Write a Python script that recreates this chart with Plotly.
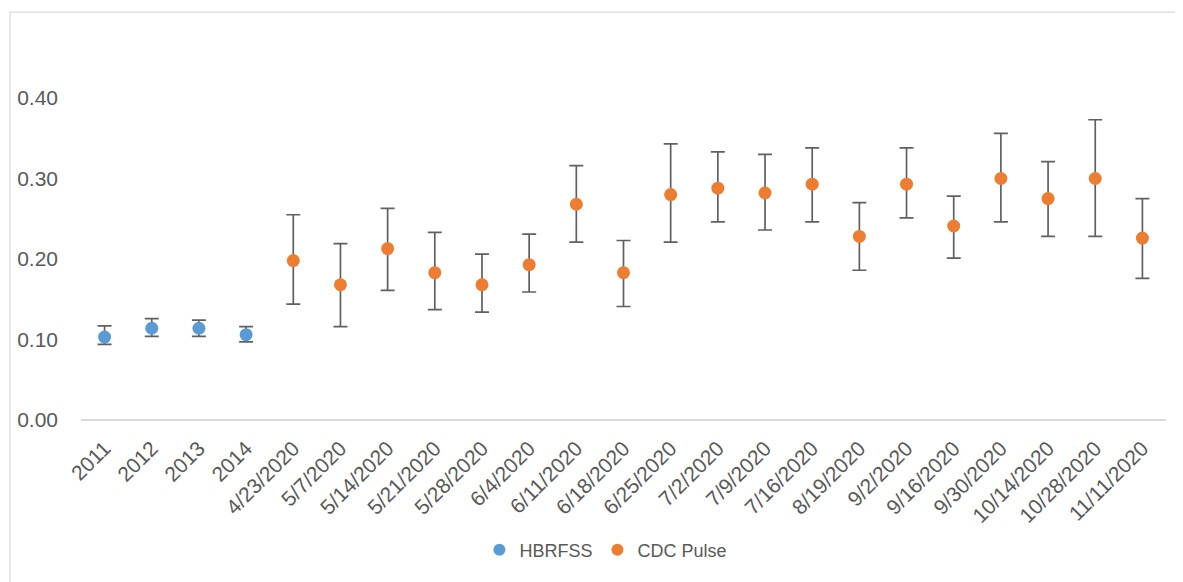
import plotly.graph_objects as go

categories = ["2011", "2012", "2013", "2014", "4/23/2020", "5/7/2020", "5/14/2020",
              "5/21/2020", "5/28/2020", "6/4/2020", "6/11/2020", "6/18/2020",
              "6/25/2020", "7/2/2020", "7/9/2020", "7/16/2020", "8/19/2020",
              "9/2/2020", "9/16/2020", "9/30/2020", "10/14/2020", "10/28/2020",
              "11/11/2020"]

hb_x = ["2011", "2012", "2013", "2014"]
hb_val = [0.103, 0.114, 0.114, 0.106]
hb_hi = [0.117, 0.126, 0.124, 0.116]
hb_lo = [0.094, 0.104, 0.104, 0.097]

cdc_x = categories[4:]
cdc_val = [0.198, 0.168, 0.213, 0.183, 0.168, 0.193, 0.268, 0.183, 0.280, 0.288,
           0.282, 0.293, 0.228, 0.293, 0.241, 0.300, 0.275, 0.300, 0.226]
cdc_hi = [0.255, 0.219, 0.263, 0.233, 0.206, 0.231, 0.316, 0.223, 0.343, 0.333,
          0.330, 0.338, 0.270, 0.338, 0.278, 0.356, 0.321, 0.373, 0.275]
cdc_lo = [0.144, 0.116, 0.161, 0.137, 0.134, 0.159, 0.221, 0.141, 0.221, 0.246,
          0.236, 0.246, 0.186, 0.251, 0.201, 0.246, 0.228, 0.228, 0.176]

yticks = [0.0, 0.1, 0.2, 0.3, 0.4]
ytick_labels = ["0.00", "0.10", "0.20", "0.30", "0.40"]

err_color = "#606060"
text_color = "#595959"
font_family = "Liberation Sans, Arial, sans-serif"


def err(vals, hi, lo):
    return dict(type="data", symmetric=False,
                array=[h - v for v, h in zip(vals, hi)],
                arrayminus=[v - l for v, l in zip(vals, lo)],
                color=err_color, thickness=1.7, width=7)


fig = go.Figure()
fig.add_trace(go.Scatter(x=hb_x, y=hb_val, mode="markers", name="HBRFSS",
                         marker=dict(color="#5B9BD5", size=13),
                         error_y=err(hb_val, hb_hi, hb_lo), cliponaxis=False))
fig.add_trace(go.Scatter(x=cdc_x, y=cdc_val, mode="markers", name="CDC Pulse",
                         marker=dict(color="#ED7D31", size=13),
                         error_y=err(cdc_val, cdc_hi, cdc_lo), cliponaxis=False))

fig.update_layout(
    width=1175, height=574,
    margin=dict(l=73, r=16.5, t=90, b=162, autoexpand=False),
    paper_bgcolor="white", plot_bgcolor="white",
    font=dict(family=font_family, color=text_color),
    showlegend=True,
    legend=dict(orientation="h", x=0.3672, y=-0.4037, xanchor="left", yanchor="middle",
                font=dict(size=18, color=text_color), itemsizing="constant",
                tracegroupgap=0),
    xaxis=dict(type="category", categoryorder="array", categoryarray=categories,
               range=[-0.5, len(categories) - 0.5], automargin=False,
               tickangle=-45, tickfont=dict(size=21, color=text_color),
               showgrid=False, showline=False, zeroline=False, ticks="",
               ticklabelstandoff=11),
    yaxis=dict(range=[0, 0.4], tickvals=yticks, ticktext=ytick_labels,
               automargin=False,
               tickfont=dict(size=21, color=text_color), showgrid=False,
               zeroline=True, zerolinecolor="#d9d9d9", zerolinewidth=1.5,
               showline=False, ticks="", ticklabelstandoff=22),
    shapes=[dict(type="rect", xref="paper", yref="paper",
                 x0=-0.0654, x1=1.2, y0=-1.0, y1=1.267,
                 line=dict(color="#d9d9d9", width=1.2), fillcolor="rgba(0,0,0,0)",
                 layer="below")],
)

fig.write_html("out.html")
